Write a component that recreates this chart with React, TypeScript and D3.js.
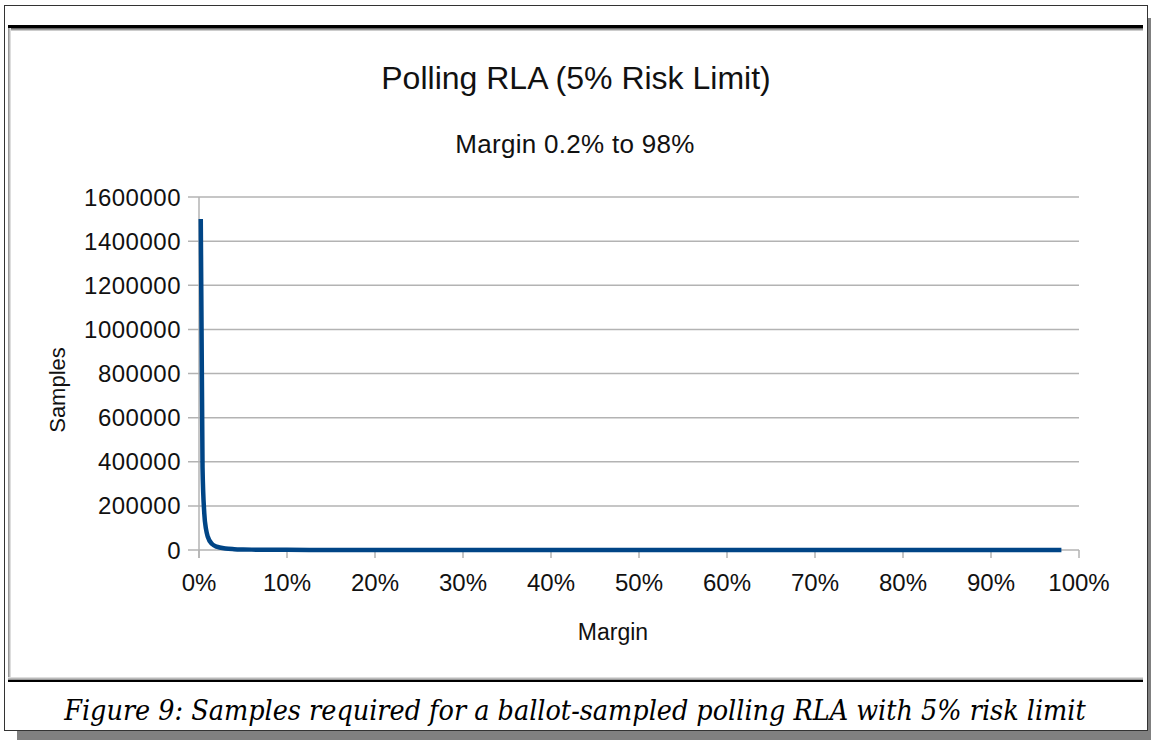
import React from "react";
import * as d3 from "d3";

// margin (fraction) vs samples needed
const margins = [0.002, 0.004, 0.006, 0.008, 0.01, 0.015, 0.02, 0.03, 0.04, 0.05, 0.06, 0.08, 0.1, 0.15, 0.2, 0.3, 0.4, 0.5, 0.6, 0.7, 0.8, 0.9, 0.98];
const samples = [1500000, 375000, 166000, 94000, 60000, 26600, 15000, 6700, 3750, 2400, 1700, 940, 600, 270, 150, 70, 40, 25, 17, 13, 10, 8, 6];
const yTicks = [0, 200000, 400000, 600000, 800000, 1000000, 1200000, 1400000, 1600000];
const xTicks = [0, 0.1, 0.2, 0.3, 0.4, 0.5, 0.6, 0.7, 0.8, 0.9, 1];

const W = 1151;
const H = 740;
const sans = "'Liberation Sans', Arial, sans-serif";

export default function App() {
  const x = d3.scaleLinear().domain([0, 1]).range([199, 1079]);
  const y = d3.scaleLinear().domain([0, 1600000]).range([550, 197]);
  const pts = margins.map((m, i) => [m, samples[i]] as [number, number]);
  const line = d3
    .line<[number, number]>()
    .x(d => x(d[0]))
    .y(d => y(d[1]))
    .curve(d3.curveMonotoneX);

  return (
    <svg width={W} height={H} style={{ position: "absolute", left: 0, top: 0, background: "#fff" }}>
      {/* frame shadow */}
      <rect x={17} y={731} width={W - 17} height={9} fill="#808080" />
      <rect x={1148} y={18} width={3} height={722} fill="#808080" />
      {/* outer frame */}
      <rect x={4.5} y={5.5} width={1143} height={725} fill="#fff" stroke="#333" />

      {/* image border shading */}
      <rect x={8} y={25} width={1135} height={3} fill="#000" />
      <rect x={8} y={28} width={1135} height={1} fill="#666" />
      <rect x={8} y={29} width={1135} height={1} fill="#999" />
      <rect x={8} y={30} width={1135} height={1} fill="#ccc" />
      <rect x={8} y={28} width={1} height={653} fill="#999" />
      <rect x={9} y={28} width={1} height={653} fill="#bbb" />
      <rect x={10} y={28} width={1} height={653} fill="#ddd" />
      <rect x={8} y={677} width={1135} height={1} fill="#ddd" />
      <rect x={8} y={678} width={1135} height={1} fill="#bbb" />
      <rect x={8} y={679} width={1135} height={1} fill="#999" />
      <rect x={8} y={680} width={1135} height={2} fill="#000" />

      {/* titles */}
      <text x={576} y={89} textAnchor="middle" fontFamily={sans} fontSize={32} fill="#111">
        Polling RLA (5% Risk Limit)
      </text>
      <text x={575} y={153} textAnchor="middle" fontFamily={sans} fontSize={26} letterSpacing={0.3} fill="#111">
        Margin 0.2% to 98%
      </text>

      {/* grid */}
      {yTicks.map(t => (
        <line key={"g" + t} x1={188} x2={x(1)} y1={y(t)} y2={y(t)} stroke="#b3b3b3" strokeWidth={1.5} />
      ))}
      <line x1={x(0)} x2={x(0)} y1={y(1600000)} y2={558} stroke="#b3b3b3" strokeWidth={1.5} />
      {xTicks.map(t => (
        <line key={"xt" + t} x1={x(t)} x2={x(t)} y1={550} y2={558} stroke="#b3b3b3" strokeWidth={1.5} />
      ))}

      {/* tick labels */}
      {yTicks.map(t => (
        <text key={"yl" + t} x={181} y={y(t) + 8.5} textAnchor="end" fontFamily={sans} fontSize={24} letterSpacing={0.5} fill="#111">
          {t}
        </text>
      ))}
      {xTicks.map(t => (
        <text key={"xl" + t} x={x(t)} y={591} textAnchor="middle" fontFamily={sans} fontSize={24} fill="#111">
          {d3.format(".0%")(t)}
        </text>
      ))}

      {/* axis titles */}
      <text x={613} y={640} textAnchor="middle" fontFamily={sans} fontSize={23} fill="#111">
        Margin
      </text>
      <text
        transform="translate(65,390) rotate(-90)"
        textAnchor="middle"
        fontFamily={sans}
        fontSize={22}
        fill="#111"
      >
        Samples
      </text>

      {/* series */}
      <path d={line(pts) ?? ""} fill="none" stroke="#004586" strokeWidth={4.5} strokeLinejoin="round" />

      {/* caption */}
      <text
        x={575}
        y={720}
        textAnchor="middle"
        fontFamily="'DejaVu Serif Condensed', 'DejaVu Serif', serif"
        fontStretch="condensed"
        fontStyle="italic"
        fontSize={28.4}
        fill="#000"
      >
        Figure 9: Samples required for a ballot-sampled polling RLA with 5% risk limit
      </text>
    </svg>
  );
}
